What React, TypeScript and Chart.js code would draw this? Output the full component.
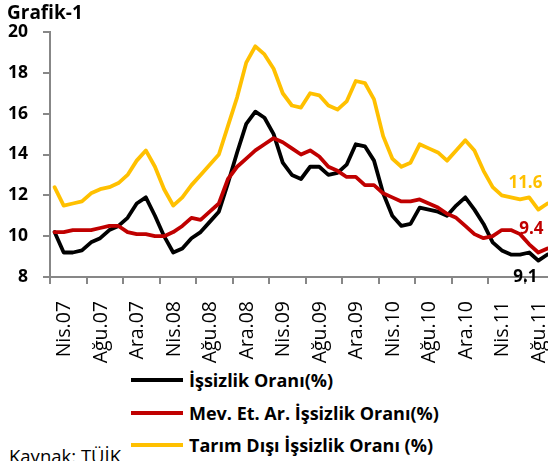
import React, { useEffect, useRef } from 'react';
import { Chart, registerables } from 'chart.js';

Chart.register(...registerables);

// ---- data ----
const categories = [
  'Nis.07', 'May.07', 'Haz.07', 'Tem.07', 'Ağu.07', 'Eyl.07', 'Eki.07', 'Kas.07', 'Ara.07',
  'Oca.08', 'Şub.08', 'Mar.08', 'Nis.08', 'May.08', 'Haz.08', 'Tem.08', 'Ağu.08', 'Eyl.08', 'Eki.08', 'Kas.08', 'Ara.08',
  'Oca.09', 'Şub.09', 'Mar.09', 'Nis.09', 'May.09', 'Haz.09', 'Tem.09', 'Ağu.09', 'Eyl.09', 'Eki.09', 'Kas.09', 'Ara.09',
  'Oca.10', 'Şub.10', 'Mar.10', 'Nis.10', 'May.10', 'Haz.10', 'Tem.10', 'Ağu.10', 'Eyl.10', 'Eki.10', 'Kas.10', 'Ara.10',
  'Oca.11', 'Şub.11', 'Mar.11', 'Nis.11', 'May.11', 'Haz.11', 'Tem.11', 'Ağu.11', 'Eyl.11', 'Eki.11',
];

const issizlikOrani = [
  10.2, 9.2, 9.2, 9.3, 9.7, 9.9, 10.3, 10.5, 10.9, 11.6,
  11.9, 11.0, 10.0, 9.2, 9.4, 9.9, 10.2, 10.7, 11.2, 12.6,
  14.1, 15.5, 16.1, 15.8, 15.0, 13.6, 13.0, 12.8, 13.4, 13.4,
  13.0, 13.1, 13.5, 14.5, 14.4, 13.7, 12.1, 11.0, 10.5, 10.6,
  11.4, 11.3, 11.2, 11.0, 11.5, 11.9, 11.3, 10.6, 9.7, 9.3,
  9.1, 9.1, 9.2, 8.8, 9.1,
];

const mevsimEtkisiArindirilmis = [
  10.2, 10.2, 10.3, 10.3, 10.3, 10.4, 10.5, 10.5, 10.2, 10.1,
  10.1, 10.0, 10.0, 10.2, 10.5, 10.9, 10.8, 11.2, 11.6, 12.8,
  13.4, 13.8, 14.2, 14.5, 14.8, 14.6, 14.3, 14.0, 14.2, 13.9,
  13.4, 13.2, 12.9, 12.9, 12.5, 12.5, 12.1, 11.9, 11.7, 11.7,
  11.8, 11.6, 11.4, 11.1, 10.9, 10.5, 10.1, 9.9, 10.0, 10.3,
  10.3, 10.1, 9.6, 9.2, 9.4,
];

const tarimDisi = [
  12.4, 11.5, 11.6, 11.7, 12.1, 12.3, 12.4, 12.6, 13.0, 13.7,
  14.2, 13.4, 12.3, 11.5, 11.9, 12.5, 13.0, 13.5, 14.0, 15.4,
  16.8, 18.5, 19.3, 18.9, 18.2, 17.0, 16.4, 16.3, 17.0, 16.9,
  16.4, 16.2, 16.6, 17.6, 17.5, 16.7, 14.9, 13.8, 13.4, 13.6,
  14.5, 14.3, 14.1, 13.7, 14.2, 14.7, 14.2, 13.2, 12.4, 12.0,
  11.9, 11.8, 11.9, 11.3, 11.6,
];

const seriesNames = [
  'İşsizlik Oranı(%)',
  'Mev. Et. Ar. İşsizlik Oranı(%)',
  'Tarım Dışı İşsizlik Oranı (%)',
];

const yMin = 8;
const yMax = 20;
const yStep = 2;

const chartTitle = 'Grafik-1';
const sourceNote = 'Kaynak: TÜİK';

// ---- styles ----
const COLORS = ['#000000', '#C00000', '#FFC000'];
const AXIS = '#878787';
const FONT = '"Open Sans", Lato, sans-serif';
const LABEL_OFFSETS = [
  { dx: -22, dy: 23 },
  { dx: -16, dy: -19 },
  { dx: -22, dy: -20 },
];

const endLabelPlugin = {
  id: 'endLabels',
  afterDatasetsDraw(chart: any) {
    const ctx = chart.ctx;
    ctx.save();
    ctx.font = `bold 17px ${FONT}`;
    ctx.textAlign = 'center';
    ctx.textBaseline = 'middle';
    chart.data.datasets.forEach((ds: any, i: number) => {
      const meta = chart.getDatasetMeta(i);
      const pts = meta.data;
      const pt = pts[pts.length - 1];
      const val = ds.data[ds.data.length - 1];
      const off = LABEL_OFFSETS[i];
      ctx.fillStyle = COLORS[i];
      ctx.fillText(Number(val).toFixed(1), pt.x + off.dx, pt.y + off.dy);
    });
    ctx.restore();
  },
};

export default function App() {
  const canvasRef = useRef<HTMLCanvasElement | null>(null);

  useEffect(() => {
    const canvas = canvasRef.current;
    if (!canvas) return;
    const seriesValues = [issizlikOrani, mevsimEtkisiArindirilmis, tarimDisi];
    const chart = new Chart(canvas, {
      type: 'line',
      data: {
        labels: categories,
        datasets: seriesValues.map((vals, i) => ({
          label: seriesNames[i],
          data: vals,
          borderColor: COLORS[i],
          backgroundColor: COLORS[i],
          borderWidth: 3.8,
          pointRadius: 0,
          pointHoverRadius: 0,
          tension: 0,
          fill: false,
          order: 3 - i,
          borderJoinStyle: 'round' as const,
          borderCapStyle: 'round' as const,
        })),
      },
      options: {
        responsive: false,
        animation: false,
        devicePixelRatio: 1,
        layout: { padding: { top: 32, right: 0, bottom: 0, left: 0 } },
        plugins: {
          legend: { display: false },
          tooltip: { enabled: false },
          title: { display: false },
        },
        scales: {
          x: {
            type: 'category',
            offset: true,
            grid: {
              display: true,
              offset: true,
              drawOnChartArea: false,
              drawTicks: true,
              tickLength: 7,
              lineWidth: 2,
              color: (c: any) => (c.index % 4 === 0 ? AXIS : 'rgba(0,0,0,0)'),
            },
            border: { display: true, color: AXIS, width: 2 },
            ticks: {
              autoSkip: false,
              maxRotation: 90,
              minRotation: 90,
              labelOffset: 10,
              padding: 17,
              color: '#000',
              font: { family: FONT, size: 19.5 },
              callback: (_v: any, i: number) => (i % 4 === 0 ? categories[i] : ''),
            },
            afterFit: (scale: any) => {
              scale.height = 90;
              scale.paddingLeft = 0;
              scale.paddingRight = 0;
            },
          },
          y: {
            min: yMin,
            max: yMax,
            grid: {
              display: true,
              drawOnChartArea: false,
              drawTicks: true,
              tickLength: 7,
              lineWidth: 2,
              color: AXIS,
            },
            border: { display: true, color: AXIS, width: 2 },
            ticks: {
              stepSize: yStep,
              padding: 15,
              color: '#000',
              font: { family: FONT, size: 17.5, weight: 'bold' },
            },
            afterFit: (scale: any) => {
              scale.width = 50;
              scale.paddingTop = 0;
              scale.paddingBottom = 0;
            },
          },
        },
      },
      plugins: [endLabelPlugin],
    });
    return () => chart.destroy();
  }, []);

  const legendRows = [380, 412.5, 445];

  return (
    <div
      style={{
        position: 'absolute',
        left: 0,
        top: 0,
        width: 548,
        height: 461,
        overflow: 'hidden',
        background: '#fff',
        fontFamily: FONT,
      }}
    >
      <canvas
        ref={canvasRef}
        width={552}
        height={367}
        style={{ position: 'absolute', left: 0, top: 0, width: 552, height: 367 }}
      />
      <div
        style={{
          position: 'absolute',
          left: 7,
          top: 0,
          fontSize: 19,
          fontWeight: 'bold',
          lineHeight: '24px',
          color: '#000',
          whiteSpace: 'nowrap',
        }}
      >
        {chartTitle}
      </div>
      {seriesNames.map((name, i) => (
        <div
          key={name}
          style={{
            position: 'absolute',
            left: 131,
            top: legendRows[i] - 12,
            height: 24,
            display: 'flex',
            alignItems: 'center',
            whiteSpace: 'nowrap',
          }}
        >
          <div style={{ width: 52, height: 4, background: COLORS[i] }} />
          <span
            style={{
              marginLeft: 6,
              fontSize: 18,
              fontWeight: 'bold',
              color: '#000',
              lineHeight: '24px',
            }}
          >
            {name}
          </span>
        </div>
      ))}
      <div
        style={{
          position: 'absolute',
          left: 9,
          top: 444,
          fontSize: 18.5,
          lineHeight: '24px',
          color: '#000',
          whiteSpace: 'nowrap',
        }}
      >
        {sourceNote}
      </div>
    </div>
  );
}
